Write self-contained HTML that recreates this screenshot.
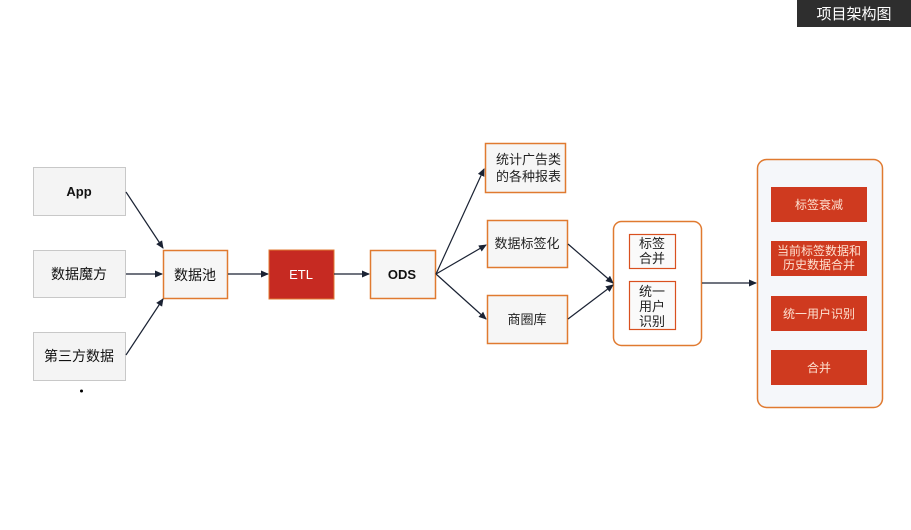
<!DOCTYPE html>
<html><head><meta charset="utf-8"><style>
html,body{margin:0;padding:0;background:#fff;}
svg text{font-family:"Liberation Sans","Noto Sans CJK SC",sans-serif;}
</style></head><body>
<svg width="911" height="525" viewBox="0 0 911 525" xmlns="http://www.w3.org/2000/svg">
<defs><marker id="a" markerWidth="8" markerHeight="8" refX="7" refY="4" orient="auto" markerUnits="userSpaceOnUse"><path d="M0,0.5 L8,4 L0,7.5 z" fill="#1a2233"/></marker></defs>
<rect x="797" y="0" width="114" height="27" fill="#2e2e2e"/>
<text x="854" y="19" fill="#fff" font-size="15" text-anchor="middle">项目架构图</text>
<g stroke="#c8c8c8" fill="#f4f4f4" stroke-width="1">
<rect x="33.5" y="167.5" width="92" height="48"/>
<rect x="33.5" y="250.5" width="92" height="47"/>
<rect x="33.5" y="332.5" width="92" height="48"/>
</g>
<g font-size="14" text-anchor="middle" fill="#111">
<text x="79" y="196" font-weight="bold" font-size="13">App</text>
<text x="79" y="279">数据魔方</text>
<text x="79" y="361">第三方数据</text>
</g>
<circle cx="81.5" cy="391" r="1.5" fill="#000"/>
<g stroke="#e07a30" stroke-width="1.5" fill="#f6f6f6">
<rect x="163.5" y="250.5" width="64" height="48"/>
<rect x="370.5" y="250.5" width="65" height="48"/>
<rect x="485.5" y="143.5" width="80" height="49"/>
<rect x="487.5" y="220.5" width="80" height="47"/>
<rect x="487.5" y="295.5" width="80" height="48"/>
</g>
<rect x="613.5" y="221.5" width="88" height="124" rx="8" fill="#fff" stroke="#e07a30" stroke-width="1.5"/>
<rect x="629.5" y="234.5" width="46" height="34" fill="#fafafa" stroke="#d9501f" stroke-width="1.2"/>
<rect x="629.5" y="281.5" width="46" height="48" fill="#fafafa" stroke="#d9501f" stroke-width="1.2"/>
<rect x="757.5" y="159.5" width="125" height="248" rx="9" fill="#f5f7fa" stroke="#e07a30" stroke-width="1.5"/>
<rect x="269" y="250" width="65" height="49" fill="#c62a22" stroke="#e07a30" stroke-width="1"/>
<g fill="#cf3a1f">
<rect x="771" y="187" width="96" height="35"/>
<rect x="771" y="241" width="96" height="35"/>
<rect x="771" y="296" width="96" height="35"/>
<rect x="771" y="350" width="96" height="35"/>
</g>
<g font-size="14" text-anchor="middle" fill="#111">
<text x="195" y="280">数据池</text>
<text x="402" y="279" font-weight="bold" font-size="13">ODS</text>
<text x="301" y="279" fill="#fff" font-size="13">ETL</text>
</g>
<g font-size="13" fill="#222">
<text x="496" y="164">统计广告类</text>
<text x="496" y="181">的各种报表</text>
<text x="527" y="248" text-anchor="middle">数据标签化</text>
<text x="527" y="324" text-anchor="middle">商圈库</text>
<text x="652" y="248" text-anchor="middle">标签</text>
<text x="652" y="263" text-anchor="middle">合并</text>
<text x="652" y="296" text-anchor="middle">统一</text>
<text x="652" y="311" text-anchor="middle">用户</text>
<text x="652" y="326" text-anchor="middle">识别</text>
</g>
<g font-size="12" fill="#fde0d0" text-anchor="middle">
<text x="819" y="209">标签衰减</text>
<text x="819" y="255">当前标签数据和</text>
<text x="819" y="269">历史数据合并</text>
<text x="819" y="318">统一用户识别</text>
<text x="819" y="372">合并</text>
</g>
<g stroke="#1a2233" stroke-width="1.2" fill="none" marker-end="url(#a)">
<line x1="126" y1="192" x2="163" y2="248"/>
<line x1="126" y1="274" x2="162" y2="274"/>
<line x1="126" y1="355" x2="163" y2="299"/>
<line x1="228" y1="274" x2="268" y2="274"/>
<line x1="334" y1="274" x2="369" y2="274"/>
<line x1="436" y1="274" x2="484" y2="169"/>
<line x1="436" y1="274" x2="486" y2="245"/>
<line x1="436" y1="274" x2="486" y2="319"/>
<line x1="568" y1="244" x2="613" y2="283"/>
<line x1="568" y1="319" x2="613" y2="285"/>
<line x1="702" y1="283" x2="756" y2="283"/>
</g>
</svg>
</body></html>
